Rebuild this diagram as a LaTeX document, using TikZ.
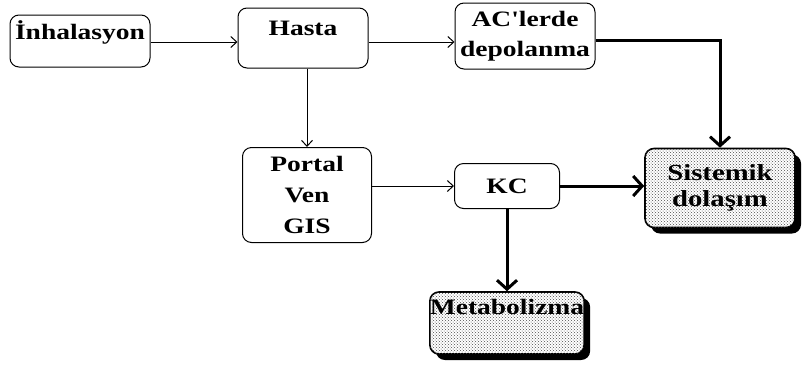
\documentclass[tikz,border=0pt]{standalone}
\usepackage{fontspec}
\setmainfont{Liberation Serif}[FakeStretch=1.25, Ligatures=TeXOff]
\usetikzlibrary{arrows.meta,patterns,shadows}
\begin{document}
\begin{tikzpicture}[x=1pt, y=-1pt, line width=1pt,
  box node/.style={rounded corners=9pt, draw, inner sep=2pt, align=center, font=\fontsize{22}{30}\selectfont\bfseries},
  dark node/.style={box node, line width=1.6pt, fill=white,
    drop shadow={shadow xshift=6pt, shadow yshift=-6pt, fill=black, opacity=1},
    postaction={pattern=crosshatch dots, pattern color=black!70}},
  thin arrow/.style={-{Straight Barb[length=6pt,width=11pt]}},
  thick arrow/.style={line width=3pt, -{Straight Barb[length=9pt,width=20pt,line width=3pt]}}]
\useasboundingbox (0,0) rectangle (810,373);
\node [box node, minimum width=140pt, text height=22pt, text depth=26pt](inh) at (80,41) {İnhalasyon};
\node [box node, minimum width=130pt, text height=25pt, text depth=31pt](hasta) at (303,38) {Hasta};
\node [box node, minimum width=140pt, minimum height=66pt](ac) at (525,36) {AC'lerde\\depolanma};
\node [box node, minimum width=129pt, minimum height=95pt, font=\fontsize{22}{31}\selectfont\bfseries](portal) at (307,195) {Portal\\Ven\\GIS};
\node [box node, minimum width=105pt, minimum height=45pt](kc) at (507,186) {KC};
\node [dark node, minimum width=150pt, minimum height=79pt, font=\fontsize{23}{26}\selectfont\bfseries](sis) at (720,188) {Sistemik\\dolaşım};
\node [dark node, minimum width=150pt, text height=22pt, text depth=40pt, inner sep=0pt](meta) at (507,323) {Metabolizma};
\path [thin arrow]
    (inh.east |- 0,42) edge (hasta.west |- 0,42)
    (hasta.east |- 0,42) edge (ac.west |- 0,42)
    (hasta.south -| 307,0) edge (portal.north)
    (portal.east |- kc) edge (kc.west)
         ;
\path [thick arrow]
    (ac.east |- 0,40) edge[to path={-| (\tikztotarget)}] (sis.north)
    (kc.east) edge (sis.west |- kc)
    (kc.south) edge (meta.north)
         ;
\end{tikzpicture}
\end{document}
